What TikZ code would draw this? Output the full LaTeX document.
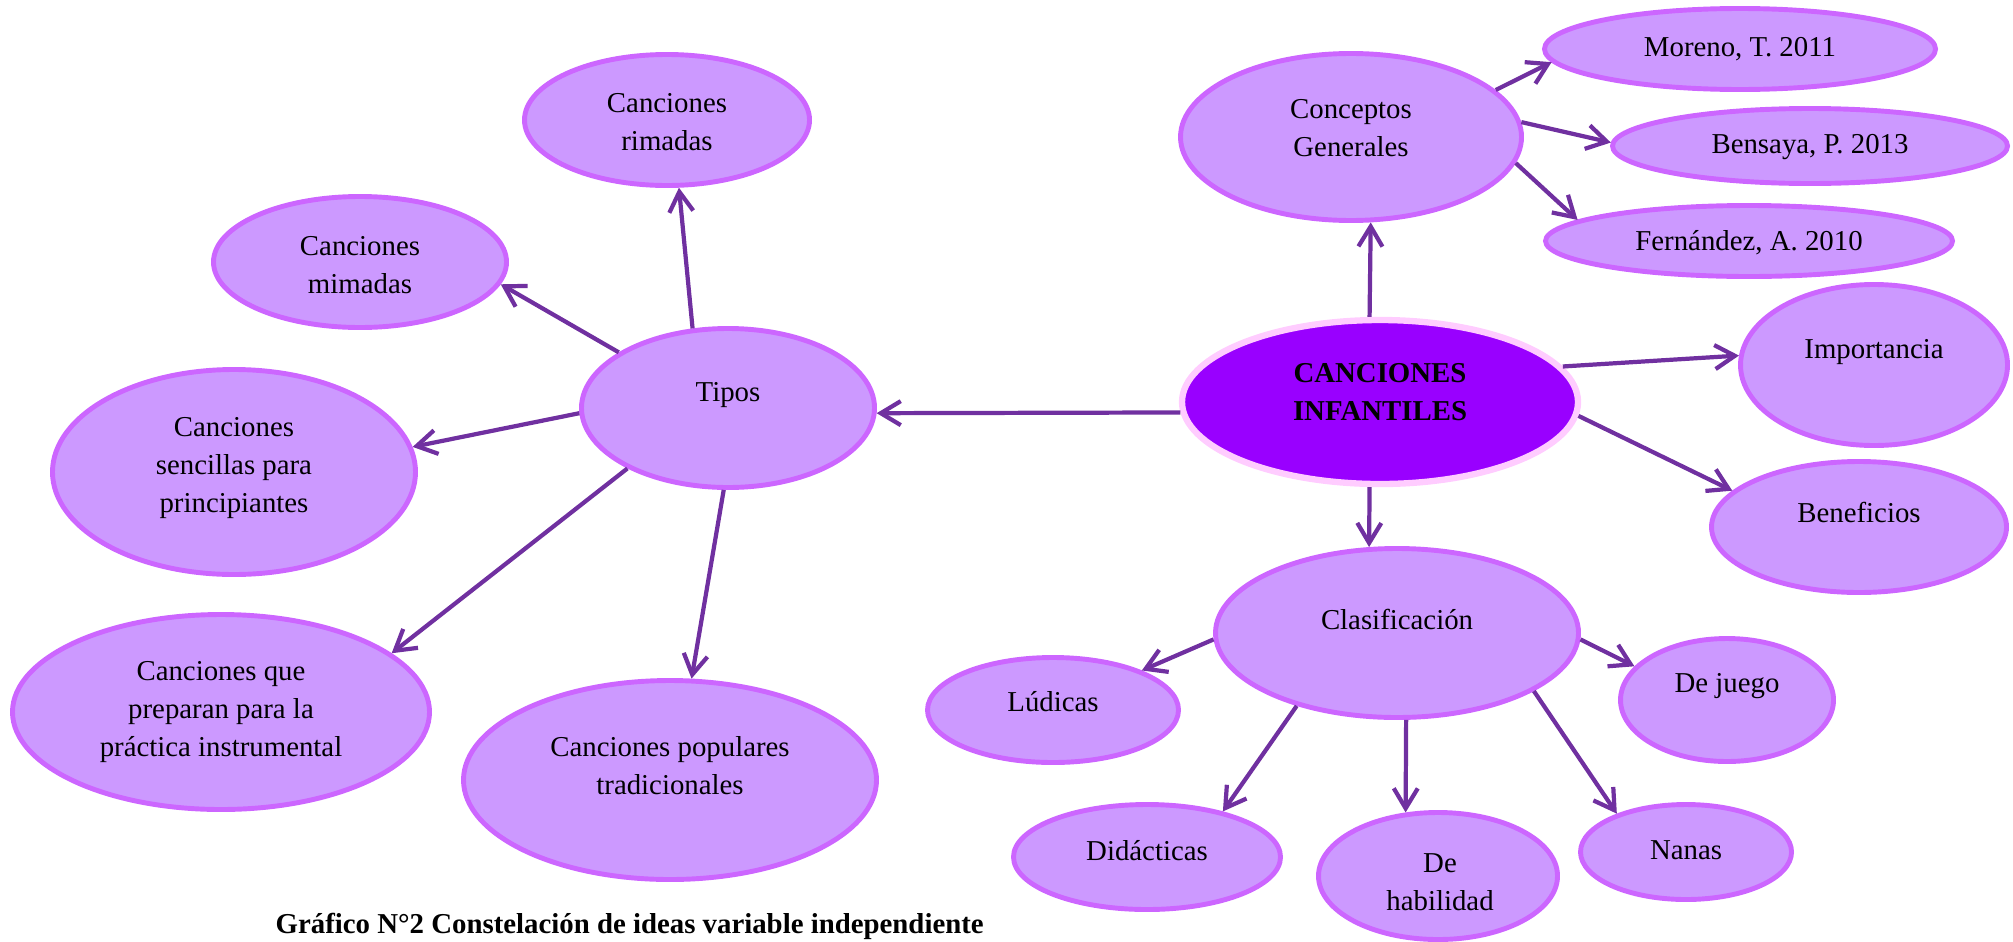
\documentclass[tikz,border=0pt]{standalone}
\usepackage{fontspec}
\setmainfont{Liberation Serif}
\usetikzlibrary{shapes.geometric,arrows.meta}
\definecolor{bubblefill}{HTML}{CC99FF}
\definecolor{bubbleline}{HTML}{CC66FF}
\definecolor{corefill}{HTML}{9900FF}
\definecolor{coreline}{HTML}{FFCCFF}
\definecolor{arrowc}{HTML}{7030A0}

\begin{document}
\begin{tikzpicture}
            \tikzstyle{arrow} = [line width=1.2pt,color=arrowc,-{Straight Barb[length=2mm,width=2.4mm]}]
            \tikzstyle{bubble} = [ellipse,draw=bubbleline,fill=bubblefill,line width=1.4pt,inner sep=0pt]
            \tikzstyle{core} = [ellipse,draw=coreline,fill=corefill,line width=1.8pt,inner sep=0pt]
            \tikzstyle{lbl} = [align=center,inner sep=0pt,font=\fontsize{8.2}{10.8}\selectfont]
            \useasboundingbox (0,0) rectangle (20.13,-9.41);

            \node[bubble, minimum width=2.85cm, minimum height=1.31cm] (rimadas) at (6.67,-1.20) {};
            \node[bubble, minimum width=2.93cm, minimum height=1.31cm] (mimadas) at (3.60,-2.62) {};
            \node[bubble, minimum width=2.93cm, minimum height=1.59cm] (tipos) at (7.28,-4.08) {};
            \node[bubble, minimum width=3.63cm, minimum height=2.05cm] (sencillas) at (2.34,-4.72) {};
            \node[bubble, minimum width=4.17cm, minimum height=1.95cm] (preparan) at (2.21,-7.12) {};
            \node[bubble, minimum width=4.13cm, minimum height=1.99cm] (populares) at (6.70,-7.80) {};
            \node[bubble, minimum width=3.41cm, minimum height=1.67cm] (conceptos) at (13.51,-1.37) {};
            \node[bubble, minimum width=3.91cm, minimum height=0.81cm] (moreno) at (17.40,-0.49) {};
            \node[bubble, minimum width=3.95cm, minimum height=0.75cm] (bensaya) at (18.10,-1.46) {};
            \node[bubble, minimum width=4.07cm, minimum height=0.71cm] (fernandez) at (17.49,-2.41) {};
            \node[core, minimum width=3.96cm, minimum height=1.64cm] (cancion) at (13.80,-4.02) {};
            \node[bubble, minimum width=2.67cm, minimum height=1.61cm] (importancia) at (18.74,-3.65) {};
            \node[bubble, minimum width=2.95cm, minimum height=1.31cm] (beneficios) at (18.59,-5.27) {};
            \node[bubble, minimum width=3.63cm, minimum height=1.69cm] (clasif) at (13.97,-6.33) {};
            \node[bubble, minimum width=2.51cm, minimum height=1.05cm] (ludicas) at (10.53,-7.10) {};
            \node[bubble, minimum width=2.13cm, minimum height=1.23cm] (dejuego) at (17.27,-7.00) {};
            \node[bubble, minimum width=2.67cm, minimum height=1.05cm] (didacticas) at (11.47,-8.57) {};
            \node[bubble, minimum width=2.39cm, minimum height=1.27cm] (habilidad) at (14.38,-8.76) {};
            \node[bubble, minimum width=2.11cm, minimum height=0.95cm] (nanas) at (16.86,-8.52) {};

            \node[lbl] (rimadastxt) at (6.67,-1.22) {Canciones\\rimadas};
            \node[lbl] (mimadastxt) at (3.60,-2.65) {Canciones\\mimadas};
            \node[lbl] (tipostxt) at (7.28,-3.95) {Tipos};
            \node[lbl] (sencillastxt) at (2.34,-4.68) {Canciones\\sencillas para\\principiantes};
            \node[lbl] (preparantxt) at (2.21,-7.12) {Canciones que\\preparan para la\\práctica instrumental};
            \node[lbl] (popularestxt) at (6.70,-7.66) {Canciones populares\\tradicionales};
            \node[lbl] (conceptostxt) at (13.51,-1.28) {Conceptos\\Generales};
            \node[lbl] (morenotxt) at (17.40,-0.49) {Moreno, T. 2011};
            \node[lbl] (bensayatxt) at (18.10,-1.47) {Bensaya, P. 2013};
            \node[lbl] (fernandeztxt) at (17.49,-2.43) {Fernández, A. 2010};
            \node[lbl] (canciontxt) at (13.80,-3.92) {\textbf{CANCIONES}\\\textbf{INFANTILES}};
            \node[lbl] (importanciatxt) at (18.74,-3.52) {Importancia};
            \node[lbl] (beneficiostxt) at (18.59,-5.12) {Beneficios};
            \node[lbl] (clasiftxt) at (13.97,-6.19) {Clasificación};
            \node[lbl] (ludicastxt) at (10.53,-7.02) {Lúdicas};
            \node[lbl] (dejuegotxt) at (17.27,-6.86) {De juego};
            \node[lbl] (didacticastxt) at (11.47,-8.51) {Didácticas};
            \node[lbl] (habilidadtxt) at (14.40,-8.82) {De\\habilidad};
            \node[lbl] (nanastxt) at (16.86,-8.50) {Nanas};

            \draw[arrow] (tipos.114) -- (rimadas.280);
            \draw[arrow] (tipos.153) -- (mimadas.351);
            \draw[arrow] (tipos.182) -- (sencillas.8);
            \draw[arrow] (tipos.211) -- (preparan.19);
            \draw[arrow] (tipos.267) -- (populares.78);
            \draw[arrow] (cancion.183) -- (tipos.358);
            \draw[arrow] (cancion.97) -- (conceptos.283);
            \draw[arrow] (conceptos.18) -- (moreno.184);
            \draw[arrow] (conceptos.5) -- (bensaya.179);
            \draw[arrow] (conceptos.351) -- (fernandez.173);
            \draw[arrow] (cancion.11) -- (importancia.176);
            \draw[arrow] (cancion.356) -- (beneficios.164);
            \draw[arrow] (cancion.263) -- (clasif.108);
            \draw[arrow] (clasif.182) -- (ludicas.24);
            \draw[arrow] (clasif.358) -- (dejuego.160);
            \draw[arrow] (clasif.216) -- (didacticas.31);
            \draw[arrow] (clasif.276) -- (habilidad.117);
            \draw[arrow] (clasif.337) -- (nanas.151);

            \node[lbl, anchor=base west] (caption) at (2.75,-9.33) {\textbf{Gráfico N°2 Constelación de ideas variable independiente}};
\end{tikzpicture}
\end{document}
